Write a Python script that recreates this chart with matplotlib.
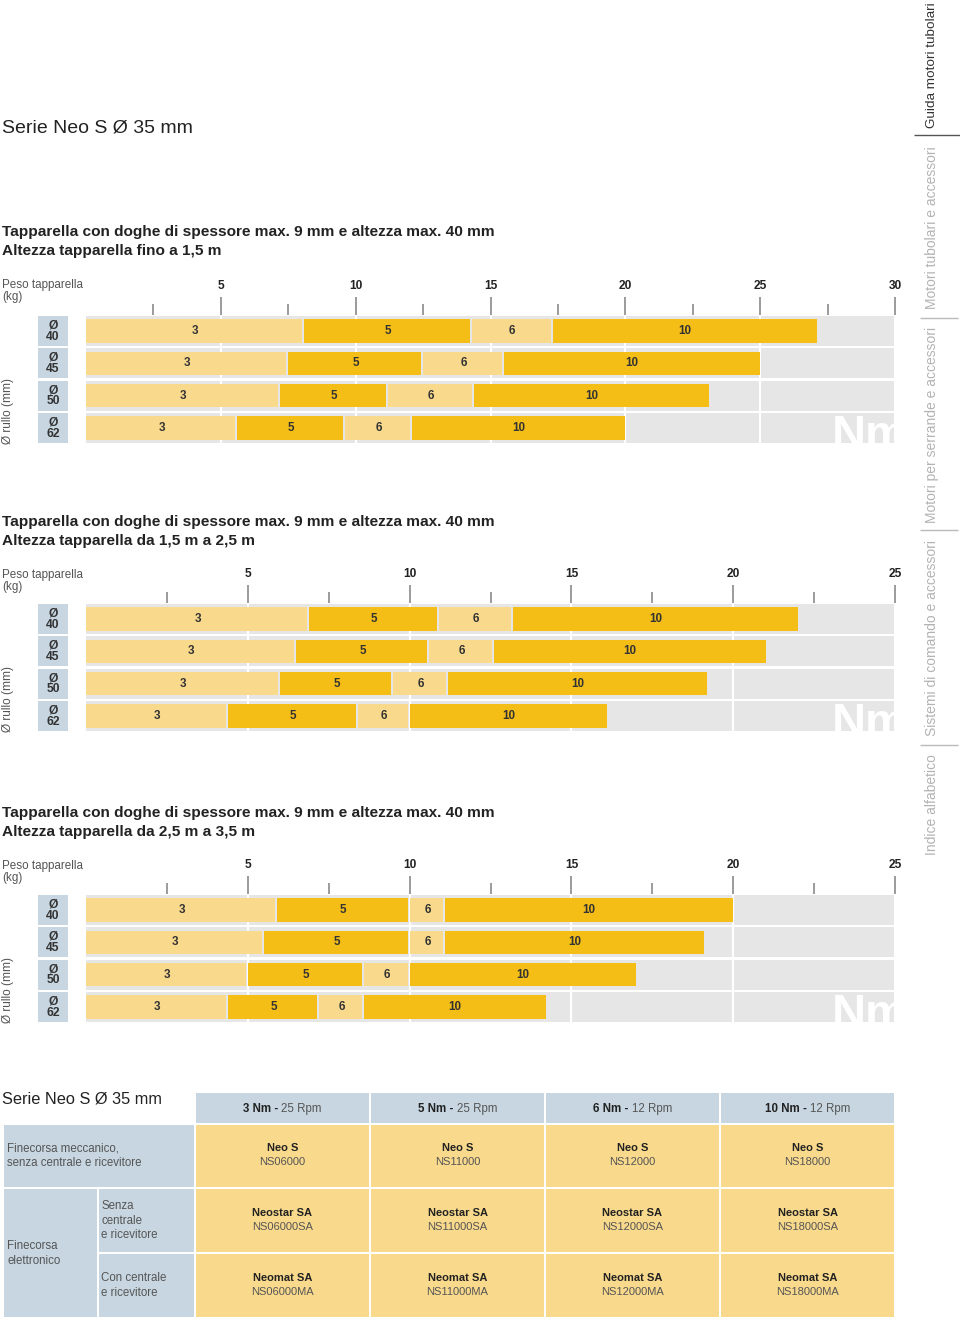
import numpy as np
import matplotlib
matplotlib.use("Agg")
import matplotlib.pyplot as plt
from matplotlib.patches import Rectangle
from matplotlib.transforms import blended_transform_factory

plt.rcParams['font.family'] = ['Liberation Sans', 'DejaVu Sans']

W, H = 960, 1324

# coppie motore (Nm) e diametri del rullo (mm)
coppie = [3, 5, 6, 10]
diametri = ["40", "45", "50", "62"]

# peso tapparella (kg) fin dove arriva ogni motore, una riga per diametro
fino_1_5 = [[8.1, 14.3, 17.3, 27.1],
            [7.5, 12.5, 15.5, 25.0],
            [7.2, 11.2, 14.4, 23.1],
            [5.6, 9.6, 12.1, 20.0]]
da_1_5_a_2_5 = [[6.9, 10.9, 13.2, 22.0],
                [6.5, 10.6, 12.6, 21.0],
                [6.0, 9.5, 11.2, 19.2],
                [4.4, 8.4, 10.0, 16.1]]
da_2_5_a_3_5 = [[5.9, 10.0, 11.1, 20.0],
                [5.5, 10.0, 11.1, 19.1],
                [5.0, 8.6, 10.0, 17.0],
                [4.4, 7.2, 8.6, 14.2]]
scale_max = [30, 25, 25]

titolo = "Serie Neo S Ø 35 mm"
riga_doghe = "Tapparella con doghe di spessore max. 9 mm e altezza max. 40 mm"
altezze = ["Altezza tapparella fino a 1,5 m",
           "Altezza tapparella da 1,5 m a 2,5 m",
           "Altezza tapparella da 2,5 m a 3,5 m"]

# tabella modelli
rpm = ["25 Rpm", "25 Rpm", "12 Rpm", "12 Rpm"]
modelli = ["Neo S", "Neostar SA", "Neomat SA"]
codici = [["NS06000", "NS11000", "NS12000", "NS18000"],
          ["NS06000SA", "NS11000SA", "NS12000SA", "NS18000SA"],
          ["NS06000MA", "NS11000MA", "NS12000MA", "NS18000MA"]]

sezioni = ["Guida motori tubolari", "Motori tubolari e accessori",
           "Motori per serrande e accessori", "Sistemi di comando e accessori",
           "Indice alfabetico"]

CHIARO = '#f9d98c'
SCURO = '#f4be16'
GRIGIO = '#e6e6e6'
AZZURRO = '#c7d6e0'
TESTO = '#222222'
GRIGIO_TESTO = '#555555'
col_seg = [CHIARO, SCURO, CHIARO, SCURO]

fig = plt.figure(figsize=(W / 100, H / 100), dpi=100)
bg = fig.add_axes([0, 0, 1, 1], zorder=-1)
bg.set_xlim(0, W)
bg.set_ylim(H, 0)
bg.axis('off')


def box(x0, y0, x1, y1):
    return [x0 / W, 1 - y1 / H, (x1 - x0) / W, (y1 - y0) / H]


bg.text(2, 128, titolo, fontsize=14, color=TESTO, va='center')

passo = 32.33
blocchi = [(232, 331, fino_1_5), (522, 619, da_1_5_a_2_5), (813, 910, da_2_5_a_3_5)]

for k, (ytit, yrow, limiti) in enumerate(blocchi):
    xmax = scale_max[k]
    bg.text(2, ytit, riga_doghe, fontsize=11.1, weight='bold', color=TESTO, va='center')
    bg.text(2, ytit + 19, altezze[k], fontsize=11.1, weight='bold', color=TESTO, va='center')
    bg.text(2, ytit + 59, "Peso tapparella\n(kg)", fontsize=8.4, color=GRIGIO_TESTO,
            va='center', linespacing=1.05)

    ax = fig.add_axes(box(86, yrow - passo / 2, 895, yrow + 3.5 * passo))
    trans = blended_transform_factory(fig.transFigure, ax.transData)
    y = np.arange(len(diametri))

    ax.barh(y, xmax, height=0.93, color=GRIGIO, zorder=0)
    gap = 2 * xmax / 809
    for i, fine in enumerate(limiti):
        inizio = [0] + fine[:-1]
        for j in range(len(coppie)):
            w = fine[j] - inizio[j] - (gap if j < len(coppie) - 1 else 0)
            ax.barh(i, w, left=inizio[j], height=0.73, color=col_seg[j], zorder=2)
            ax.text((inizio[j] + fine[j]) / 2, i, str(coppie[j]), ha='center', va='center',
                    fontsize=8.4, weight='bold', color='#333333', zorder=3)

    for i, d in enumerate(diametri):
        ax.add_patch(Rectangle((38 / W, i - 0.465), 30 / W, 0.93, transform=trans,
                               color=AZZURRO, lw=0, clip_on=False))
        ax.text(53 / W, i, "Ø\n" + d, transform=trans, ha='center', va='center',
                fontsize=8.7, weight='bold', color='#333333', linespacing=0.9)
    ax.text(8 / W, 3.5, "Ø rullo (mm)", transform=trans, rotation=90, ha='center',
            va='bottom', fontsize=8.6, color=GRIGIO_TESTO)

    ax.text(0.922, 0.235, "Nm", transform=ax.transAxes, fontsize=34, weight='bold',
            color='white', ha='left', va='top', clip_on=True, zorder=1,
            family=['Liberation Sans Narrow', 'Liberation Sans'])

    ax.set_xlim(0, xmax)
    ax.set_ylim(3.5, -0.5)
    ax.xaxis.tick_top()
    ax.set_xticks(np.arange(5, xmax + 1, 5))
    ax.set_xticks(np.arange(2.5, xmax, 5), minor=True)
    ax.tick_params(axis='x', which='major', length=13, width=1.2, color='#8a8a8a',
                   pad=3.5, labelsize=8.6, labelcolor=TESTO)
    ax.tick_params(axis='x', which='minor', length=8, width=1.2, color='#8a8a8a')
    for lab in ax.get_xticklabels():
        lab.set_fontweight('bold')
    ax.set_yticks([])
    ax.grid(axis='x', which='major', color='white', lw=1.5)
    ax.set_axisbelow(True)
    for s in ax.spines.values():
        s.set_visible(False)
    ax.patch.set_alpha(0)

# --- tabella ---
bg.text(2, 1099, titolo, fontsize=11.8, color=TESTO, va='center')
col_x = [194.5, 370, 545, 720, 895]
row_y = [1091.5, 1124, 1188.3, 1253.3, 1318.3]


def cella(x0, x1, y0, y1, c):
    bg.add_patch(Rectangle((x0 + 1, y0 + 1), x1 - x0 - 2, y1 - y0 - 2, color=c, lw=0))


cella(3, col_x[0], row_y[1], row_y[2], AZZURRO)
cella(3, 98, row_y[2], row_y[4], AZZURRO)
cella(98, col_x[0], row_y[2], row_y[3], AZZURRO)
cella(98, col_x[0], row_y[3], row_y[4], AZZURRO)
bg.text(7, (row_y[1] + row_y[2]) / 2, "Finecorsa meccanico,\nsenza centrale e ricevitore",
        va='center', fontsize=8.3, color=GRIGIO_TESTO, linespacing=1.3)
bg.text(7, (row_y[2] + row_y[4]) / 2, "Finecorsa\nelettronico",
        va='center', fontsize=8.3, color=GRIGIO_TESTO, linespacing=1.3)
bg.text(101, (row_y[2] + row_y[3]) / 2, "Senza\ncentrale\ne ricevitore",
        va='center', fontsize=8.3, color=GRIGIO_TESTO, linespacing=1.3)
bg.text(101, (row_y[3] + row_y[4]) / 2, "Con centrale\ne ricevitore",
        va='center', fontsize=8.3, color=GRIGIO_TESTO, linespacing=1.3)

fig.canvas.draw()
rend = fig.canvas.get_renderer()
fs_h = 8.3
spazio = 0.278 * fs_h * 100 / 72
for i in range(len(coppie)):
    cella(col_x[i], col_x[i + 1], row_y[0], row_y[1], AZZURRO)
    cx = (col_x[i] + col_x[i + 1]) / 2
    yh = (row_y[0] + row_y[1]) / 2 + 1
    tb = bg.text(cx, yh, f"{coppie[i]} Nm -", fontsize=fs_h, weight='bold', color=TESTO,
                 va='center', ha='left')
    tr = bg.text(cx, yh, rpm[i], fontsize=fs_h, color=GRIGIO_TESTO, va='center', ha='left')
    wb = tb.get_window_extent(rend).width
    wr = tr.get_window_extent(rend).width
    x0 = cx - (wb + spazio + wr) / 2
    tb.set_x(x0)
    tr.set_x(x0 + wb + spazio)
    for r in range(len(modelli)):
        cella(col_x[i], col_x[i + 1], row_y[r + 1], row_y[r + 2], CHIARO)
        cy = (row_y[r + 1] + row_y[r + 2]) / 2
        bg.text(cx, cy - 8, modelli[r], fontsize=8, weight='bold', color=TESTO,
                ha='center', va='center')
        bg.text(cx, cy + 6, codici[r][i], fontsize=8, color=GRIGIO_TESTO,
                ha='center', va='center')

# --- indice laterale ---
bg.text(932, 128, sezioni[0], rotation=90, ha='center', va='bottom', fontsize=9.7, color='#333333')
for s, yc in zip(sezioni[1:], [228, 425, 638, 805]):
    bg.text(932, yc, s, rotation=90, ha='center', va='center', fontsize=10, color='#b3b3b3')
bg.hlines([135], 914, 960, color='#555555', lw=1)
bg.hlines([318, 530, 745], 920, 958, color='#bbbbbb', lw=1)

fig.savefig("out.png", dpi=100)
